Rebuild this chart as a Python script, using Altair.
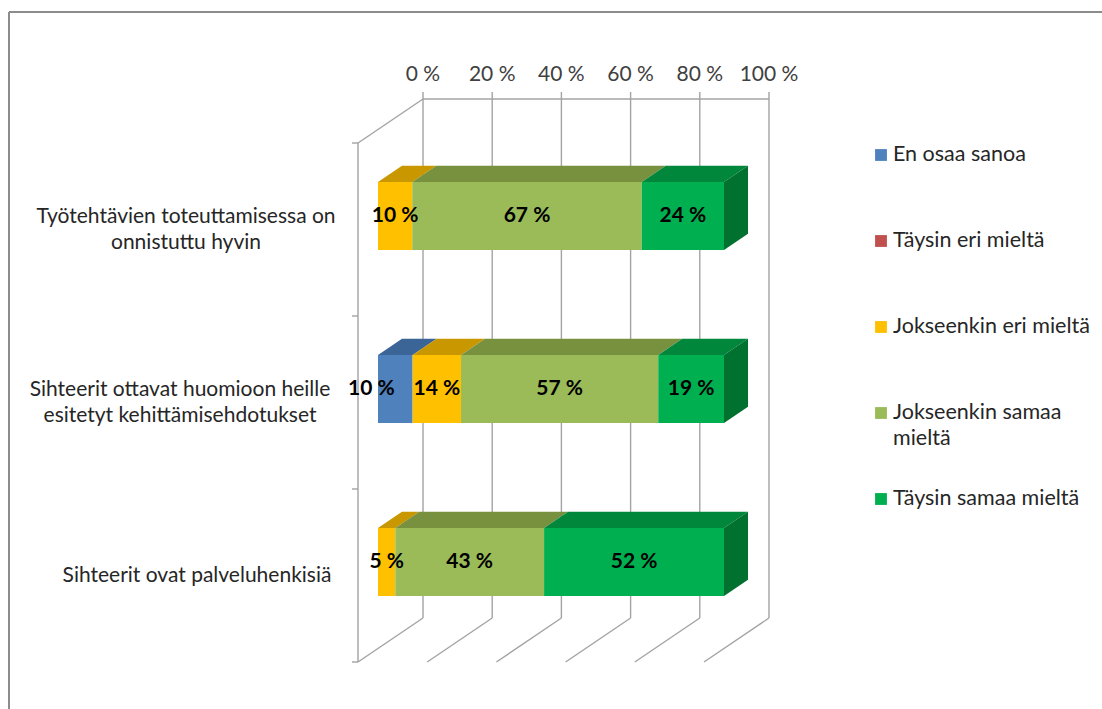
import altair as alt
import pandas as pd

W, H = 1102, 709

# ---------------- data ----------------
question_lines = [
    ["Työtehtävien toteuttamisessa on", "onnistuttu hyvin"],
    ["Sihteerit ottavat huomioon heille", "esitetyt kehittämisehdotukset"],
    ["Sihteerit ovat palveluhenkisiä"],
]
categories = [
    "En osaa sanoa",
    "Täysin eri mieltä",
    "Jokseenkin eri mieltä",
    "Jokseenkin samaa mieltä",
    "Täysin samaa mieltä",
]
en_osaa_sanoa = [0, 10, 0]
taysin_eri = [0, 0, 0]
jokseenkin_eri = [10, 14, 5]
jokseenkin_samaa = [67, 57, 43]
taysin_samaa = [24, 19, 52]
tick_values = [0, 20, 40, 60, 80, 100]
tick_labels = ["0 %", "20 %", "40 %", "60 %", "80 %", "100 %"]
legend_lines = [
    ["En osaa sanoa"],
    ["Täysin eri mieltä"],
    ["Jokseenkin eri mieltä"],
    ["Jokseenkin samaa", "mieltä"],
    ["Täysin samaa mieltä"],
]

# ---------------- style ----------------
front_colors = ["#4F81BD", "#C0504D", "#FFC000", "#9BBB59", "#00B050"]
top_colors = ["#3B6497", "#9A3B39", "#C99700", "#78913F", "#00873C"]
side_color = "#00712F"
grid_color = "#A3A3A3"
FONT = "Lato"
FS = 21

# ---------------- layout (pseudo-3D projection) ----------------
PX0, PXS = 358.0, 3.46      # front plane: 0 % position, px per %
PY0, PYS = 143.0, 173.0     # front plane: top edge, px per category
DX = 65 / PXS               # full depth, in % units
DY = 44 / PYS               # full depth, in category units
ZF, ZB = 20 / 65, 44 / 65   # bar front / back depth
HALF = 34 / PYS             # half bar thickness
LINE = 26 / PYS             # text line spacing
LABEL_CENTERS = [186, 180, 197]          # px centre of each category label block
LABEL_NUDGE = {(1, 0): -24}              # px shift of a crowded value label
LEG_SQ_X, LEG_TX_X, LEG_Y0, LEG_STEP = 881, 893, 155, 86


def px_to_x(px):
    return (px - PX0) / PXS


def py_to_y(py):
    return (py - PY0) / PYS


xscale = alt.Scale(domain=[px_to_x(0), px_to_x(W)], nice=False, zero=False)
yscale = alt.Scale(domain=[py_to_y(0), py_to_y(H)], nice=False, zero=False, reverse=True)

series = [en_osaa_sanoa, taysin_eri, jokseenkin_eri, jokseenkin_samaa, taysin_samaa]
n_q = len(question_lines)

front, top, side, labels = [], [], [], []
for qi in range(n_q):
    vals = [s[qi] for s in series]
    total = sum(vals)
    ct = qi + 0.5 - HALF
    cb = qi + 0.5 + HALF
    cum = 0
    for ci, cat in enumerate(categories):
        v = vals[ci]
        if v == 0:
            continue
        p0 = cum / total * 100
        cum += v
        p1 = cum / total * 100
        sid = f"s{qi}{ci}"
        front.append(dict(cat=cat, x=p0 + DX * ZF, x2=p1 + DX * ZF,
                          y=ct - DY * ZF, y2=cb - DY * ZF))
        # top face as a vertical area: lower edge = front edge (+ right slant),
        # upper edge = left slant + back edge
        xa, xb = p0 + DX * ZF, p0 + DX * ZB
        xc, xd = p1 + DX * ZF, p1 + DX * ZB
        yf, yb = ct - DY * ZF, ct - DY * ZB

        def lower(x):
            if x <= xc:
                return yf
            return yf + (yb - yf) * (x - xc) / (xd - xc)

        def upper(x):
            if x >= xb:
                return yb
            return yf + (yb - yf) * (x - xa) / (xb - xa)

        for xx in sorted({xa, xb, xc, xd}):
            top.append(dict(sid=sid, cat=cat, x=xx, y=lower(xx), y2=upper(xx)))
        nudge = LABEL_NUDGE.get((qi, ci), 0) / PXS
        labels.append(dict(x=(p0 + p1) / 2 + DX * ZF + nudge, y=qi + 0.5 - DY * ZF,
                           t=f"{v} %"))
        if cum == total:
            for z in (ZF, ZB):
                side.append(dict(sid=sid, x=p1 + DX * z,
                                 y=cb - DY * z, y2=ct - DY * z))

front = pd.DataFrame(front)
top = pd.DataFrame(top)
side = pd.DataFrame(side)
labels = pd.DataFrame(labels)

# walls / grid
lines = []
for p in tick_values:
    lines.append(dict(x=p + DX, y=-DY, x2=p + DX, y2=n_q - DY))            # back wall
    lines.append(dict(x=p, y=n_q, x2=p + DX, y2=n_q - DY))                 # floor
    lines.append(dict(x=p + DX, y=-DY, x2=p + DX, y2=-DY - 7 / PYS))       # tick
lines.append(dict(x=DX, y=-DY, x2=100 + DX, y2=-DY))                       # top axis line
lines.append(dict(x=0, y=0, x2=0, y2=n_q))                                  # left wall front
lines.append(dict(x=0, y=0, x2=DX, y2=-DY))                                 # left wall top
for c in range(n_q + 1):
    lines.append(dict(x=0, y=c, x2=-6 / PXS, y2=c))                        # category ticks
lines = pd.DataFrame(lines)

ticks = pd.DataFrame(dict(x=[p + DX for p in tick_values],
                          y=[-DY - 24 / PYS] * len(tick_values),
                          t=tick_labels))

qlab = []
for qi, ls in enumerate(question_lines):
    n = len(ls)
    for li, s in enumerate(ls):
        qlab.append(dict(x=px_to_x(LABEL_CENTERS[qi]),
                         y=qi + 0.5 + (li - (n - 1) / 2) * LINE, t=s))
qlab = pd.DataFrame(qlab)

leg_sq, leg_tx = [], []
for k, (cat, ls) in enumerate(zip(categories, legend_lines)):
    yk = LEG_Y0 + LEG_STEP * k
    leg_sq.append(dict(cat=cat, x=px_to_x(LEG_SQ_X), y=py_to_y(yk)))
    for li, s in enumerate(ls):
        leg_tx.append(dict(x=px_to_x(LEG_TX_X), y=py_to_y(yk) + li * LINE, t=s))
leg_sq = pd.DataFrame(leg_sq)
leg_tx = pd.DataFrame(leg_tx)


def X(f="x"):
    return alt.X(f"{f}:Q", scale=xscale, axis=None)


def Y(f="y"):
    return alt.Y(f"{f}:Q", scale=yscale, axis=None)


color = alt.Color("cat:N", scale=alt.Scale(domain=categories, range=front_colors), legend=None)

grid = alt.Chart(lines).mark_rule(color=grid_color, strokeWidth=1.4).encode(
    x=X(), y=Y(), x2="x2:Q", y2="y2:Q")

tick_text = alt.Chart(ticks).mark_text(font=FONT, fontSize=FS, color="#404040",
                                       baseline="middle", align="center").encode(
    x=X(), y=Y(), text="t:N")

top_layers = []
for ci, cat in enumerate(categories):
    d = top[top["cat"] == cat]
    if len(d) == 0:
        continue
    top_layers.append(
        alt.Chart(d).mark_area(color=top_colors[ci], opacity=1).encode(
            x=X(), y=alt.Y("y:Q", scale=yscale, axis=None, stack=None), y2="y2:Q",
            detail="sid:N"))

side_faces = alt.Chart(side).mark_area(color=side_color, opacity=1).encode(
    x=X(), y=alt.Y("y:Q", scale=yscale, axis=None, stack=None), y2="y2:Q",
    detail="sid:N")

front_faces = alt.Chart(front).mark_rect().encode(
    x=X(), x2="x2:Q", y=Y(), y2="y2:Q", color=color)

value_text = alt.Chart(labels).mark_text(font=FONT, fontSize=FS, fontWeight="bold",
                                         color="#000000", baseline="middle").encode(
    x=X(), y=Y(), text="t:N")

q_text = alt.Chart(qlab).mark_text(font=FONT, fontSize=FS, color="#262626",
                                   baseline="middle", align="center").encode(
    x=X(), y=Y(), text="t:N")

leg_square = alt.Chart(leg_sq).mark_square(size=140, opacity=1).encode(
    x=X(), y=Y(), color=color)

leg_text = alt.Chart(leg_tx).mark_text(font=FONT, fontSize=21.5, color="#262626",
                                       baseline="middle", align="left").encode(
    x=X(), y=Y(), text="t:N")

frame_top = alt.Chart(pd.DataFrame({"a": [0]})).mark_rule(color="#8C8C8C", strokeWidth=2).encode(
    x=alt.value(9), x2=alt.value(W), y=alt.value(12), y2=alt.value(12))
frame_left = alt.Chart(pd.DataFrame({"a": [0]})).mark_rule(color="#8C8C8C", strokeWidth=2).encode(
    x=alt.value(9), x2=alt.value(9), y=alt.value(12), y2=alt.value(H))

chart = alt.layer(
    grid, tick_text, *top_layers, side_faces, front_faces, value_text,
    q_text, leg_square, leg_text, frame_top, frame_left,
).properties(
    width=W, height=H, padding=0, autosize=alt.AutoSizeParams(type="none"),
    background="white",
).configure_view(stroke=None)

chart.save("out.html", embed_options={"renderer": "svg", "actions": False})
